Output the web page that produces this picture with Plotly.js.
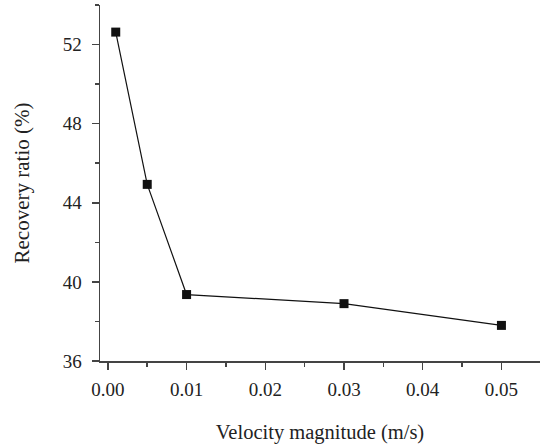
<!DOCTYPE html>
<html>
<head>
<meta charset="utf-8">
<script src="https://cdn.plot.ly/plotly-3.0.1.min.js"></script>
<style>
  html, body { margin: 0; padding: 0; background: #fff; }
  #chart { width: 540px; height: 447px; }
</style>
</head>
<body>
<div id="chart"></div>
<script>
// Recovery ratio against velocity magnitude
const velocity = [0.001, 0.005, 0.01, 0.03, 0.05];      // m/s
const recoveryRatio = [52.63, 44.93, 39.36, 38.90, 37.80]; // %

const xTickVals = [0, 0.01, 0.02, 0.03, 0.04, 0.05];
const xTickText = ['0.00', '0.01', '0.02', '0.03', '0.04', '0.05'];
const yTickVals = [36, 40, 44, 48, 52];
const yTickText = ['36', '40', '44', '48', '52'];

const serif = 'Liberation Serif, DejaVu Serif, serif';
const axisColor = '#444';
const textColor = '#222';

const trace = {
  x: velocity,
  y: recoveryRatio,
  mode: 'lines+markers',
  type: 'scatter',
  line: { color: '#111', width: 1.2 },
  marker: { symbol: 'square', size: 9, color: '#111' },
  hoverinfo: 'skip',
  showlegend: false
};

const layout = {
  width: 540,
  height: 447,
  margin: { l: 100, r: 0, t: 5, b: 86 },
  paper_bgcolor: '#fff',
  plot_bgcolor: '#fff',
  font: { family: serif, color: textColor, size: 19 },
  xaxis: {
    range: [-0.001, 0.0549],
    tickvals: xTickVals,
    ticktext: xTickText,
    ticks: 'outside',
    ticklen: 7,
    tickwidth: 1.5,
    tickcolor: axisColor,
    showline: true,
    linecolor: axisColor,
    linewidth: 1.5,
    showgrid: false,
    zeroline: false,
    minor: { dtick: 0.005, tick0: 0, ticks: 'outside', ticklen: 4, tickwidth: 1.5, tickcolor: axisColor, showgrid: false },
    tickfont: { family: serif, size: 19, color: textColor },
    ticklabelstandoff: 4,
    title: { text: 'Velocity magnitude (m/s)', font: { family: serif, size: 20.5, color: textColor }, standoff: 25 }
  },
  yaxis: {
    range: [36, 54],
    tickvals: yTickVals,
    ticktext: yTickText,
    ticks: 'outside',
    ticklen: 7,
    tickwidth: 1.5,
    tickcolor: axisColor,
    showline: true,
    linecolor: axisColor,
    linewidth: 1.5,
    showgrid: false,
    zeroline: false,
    minor: { dtick: 2, tick0: 36, ticks: 'outside', ticklen: 4, tickwidth: 1.5, tickcolor: axisColor, showgrid: false },
    tickfont: { family: serif, size: 19, color: textColor },
    ticklabelstandoff: 6,
    title: { text: 'Recovery ratio (%)', font: { family: serif, size: 21, color: textColor }, standoff: 27 }
  }
};

Plotly.newPlot('chart', [trace], layout, { staticPlot: true, displayModeBar: false });
</script>
</body>
</html>
